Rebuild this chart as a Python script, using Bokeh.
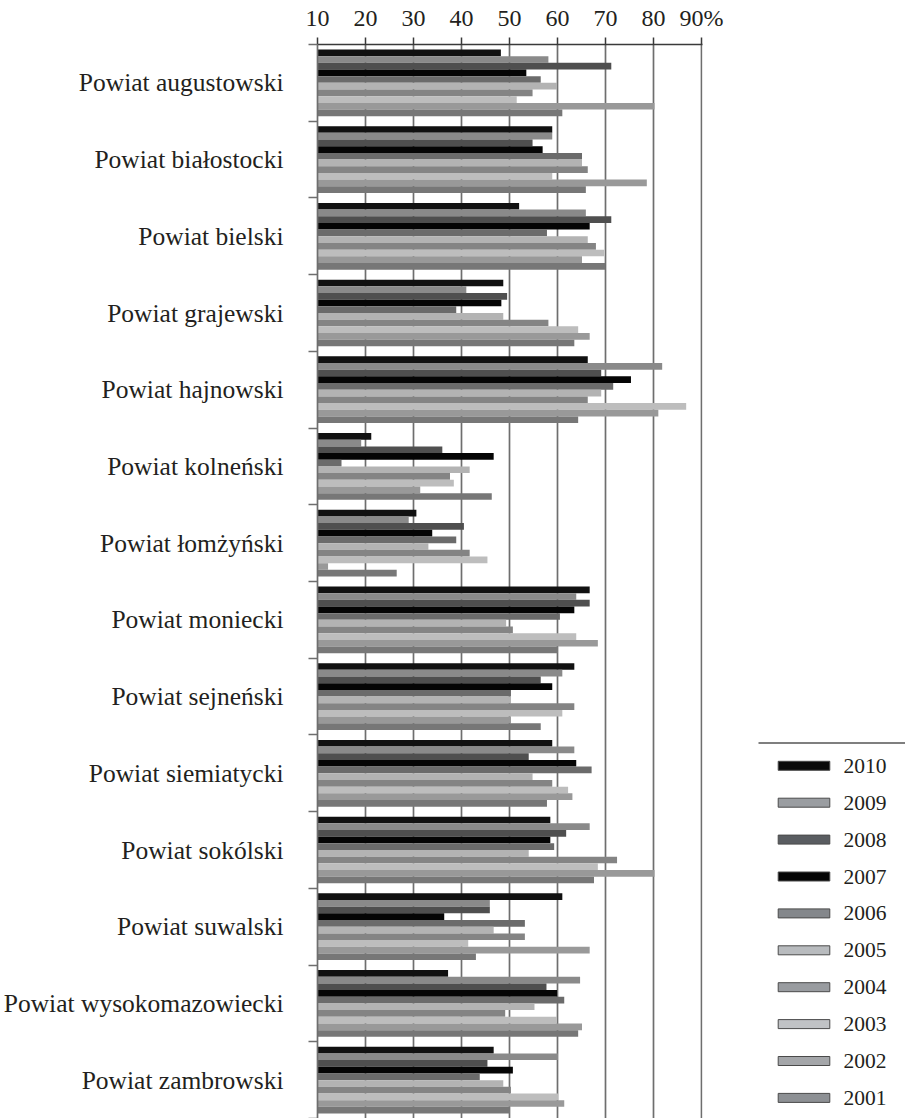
from bokeh.plotting import figure
from bokeh.models import Range1d, FixedTicker, CustomJSTickFormatter, ColumnDataSource
from bokeh.layouts import row
from bokeh.transform import dodge
from bokeh.core.properties import value
from bokeh.embed import file_html
from bokeh.resources import INLINE

districts = [
    "Powiat augustowski", "Powiat białostocki", "Powiat bielski", "Powiat grajewski",
    "Powiat hajnowski", "Powiat kolneński", "Powiat łomżyński", "Powiat moniecki",
    "Powiat sejneński", "Powiat siemiatycki", "Powiat sokólski", "Powiat suwalski",
    "Powiat wysokomazowiecki", "Powiat zambrowski",
]
years = ["2010", "2009", "2008", "2007", "2006", "2005", "2004", "2003", "2002", "2001"]

v2010 = [48.2, 58.9, 52.0, 48.7, 66.3, 21.2, 30.6, 66.7, 63.5, 58.9, 58.5, 61.0, 37.2, 46.7]
v2009 = [58.1, 58.9, 65.9, 41.0, 81.8, 19.1, 29.0, 63.9, 61.0, 63.5, 66.7, 45.9, 64.7, 60.1]
v2008 = [71.2, 54.8, 71.2, 49.5, 69.1, 36.0, 40.5, 66.7, 56.5, 54.0, 61.8, 45.9, 57.7, 45.4]
v2007 = [53.5, 56.9, 66.7, 48.3, 75.3, 46.7, 33.9, 63.5, 58.9, 63.9, 58.5, 36.4, 59.9, 50.7]
v2006 = [56.5, 65.1, 57.8, 38.9, 71.6, 15.0, 38.9, 60.5, 50.3, 67.1, 59.3, 53.2, 61.4, 43.8]
v2005 = [59.9, 65.1, 66.3, 48.7, 69.1, 41.7, 33.1, 49.3, 50.3, 54.8, 54.0, 46.7, 55.2, 48.7]
v2004 = [54.8, 66.3, 68.0, 58.1, 66.3, 37.6, 41.7, 50.7, 63.5, 58.9, 72.4, 53.2, 49.1, 50.3]
v2003 = [51.5, 58.9, 69.7, 64.3, 86.8, 38.4, 45.4, 63.9, 61.0, 62.2, 68.4, 41.4, 59.9, 60.1]
v2002 = [80.2, 78.6, 65.1, 66.7, 81.0, 31.4, 12.2, 68.4, 50.3, 63.1, 80.2, 66.7, 65.1, 61.4]
v2001 = [61.0, 65.9, 69.9, 63.5, 64.3, 46.3, 26.5, 60.1, 56.5, 57.8, 67.6, 43.0, 64.3, 50.1]

x_ticks = [10, 20, 30, 40, 50, 60, 70, 80, 90]

series = [v2010, v2009, v2008, v2007, v2006, v2005, v2004, v2003, v2002, v2001]
bar_colors = ["#111111", "#8a8a8a", "#4f4f4f", "#050505", "#6b6b6b",
              "#b3b3b3", "#848484", "#bdbdbd", "#999999", "#777777"]
legend_fill = ["#0a0a0a", "#9a9da1", "#5a5d61", "#050505", "#84878b",
               "#b8bbbe", "#999ca0", "#c0c2c5", "#a4a6a9", "#8d9094"]

FONT = "Liberation Serif"
TXT = "#231f20"
n = len(districts)
h = 0.087

W_MAIN = 730
H = 1118
TOP = 44

p = figure(width=W_MAIN, height=H, x_range=Range1d(10, 90.2), y_range=Range1d(n, 0),
           x_axis_location="above", output_backend="svg", toolbar_location=None,
           min_border_left=310, min_border_right=W_MAIN - 702, min_border_top=TOP,
           min_border_bottom=0)
p.outline_line_color = None

centers = [i + 0.5 for i in range(n)]
for j, (yr, vals) in enumerate(zip(years, series)):
    src = ColumnDataSource(dict(y=centers, v=vals))
    p.hbar(y=dodge("y", (j - 4.5) * h), left=10, right="v", height=h,
           fill_color=bar_colors[j], line_color=None, source=src)

# top axis
xa = p.xaxis[0]
xa.ticker = FixedTicker(ticks=x_ticks)
xa.major_label_overrides = {90: "90%"}
xa.major_tick_in = 0
xa.major_tick_out = 7
xa.minor_tick_line_color = None
xa.major_tick_line_color = "#3a3a3a"
xa.major_tick_line_width = 1.5
xa.axis_line_color = "#3a3a3a"
xa.axis_line_width = 1.5
xa.major_label_standoff = 7
xa.major_label_text_font = FONT
xa.major_label_text_font_size = "24px"
xa.major_label_text_color = TXT

p.xgrid.ticker = FixedTicker(ticks=x_ticks)
p.xgrid.grid_line_color = "#6e6e6e"
p.xgrid.grid_line_width = 1.7
p.ygrid.grid_line_color = None

ya = p.yaxis[0]
ya.ticker = FixedTicker(ticks=centers, minor_ticks=list(range(n + 1)))
ya.formatter = CustomJSTickFormatter(args=dict(names=districts),
                                     code="return names[Math.round(tick - 0.5)];")
ya.major_tick_out = 0
ya.major_tick_in = 0
ya.minor_tick_out = 9
ya.minor_tick_in = 0
ya.minor_tick_line_color = "#6e6e6e"
ya.minor_tick_line_width = 1.3
ya.axis_line_color = "#6e6e6e"
ya.axis_line_width = 1.7
ya.major_label_standoff = 25
ya.major_label_text_font = FONT
ya.major_label_text_font_size = "25.5px"
ya.major_label_text_color = TXT

# legend panel (its frame is aligned with the main frame by the row layout;
# ranges are expressed in page pixels)
LW = 905 - W_MAIN
lg = figure(width=LW, height=H, x_range=Range1d(W_MAIN, 905), y_range=Range1d(H, TOP),
            output_backend="svg", toolbar_location=None, min_border=0)
lg.axis.visible = False
lg.grid.grid_line_color = None
lg.outline_line_color = None
lg.segment(x0=[758], y0=[742.5], x1=[905], y1=[742.5], line_color="#555555", line_width=1.3)
ly = [765.3 + 36.9 * k for k in range(len(years))]
lg.rect(x=[803.5] * len(years), y=ly, width=51.6, height=9, fill_color=legend_fill,
        line_color="#4a4a4a", line_width=1)
lg.text(x=[843] * len(years), y=ly, text=years, text_font=value(FONT),
        text_font_size="21.5px", text_color=TXT, text_baseline="middle", text_align="left")

layout = row(p, lg)
open("out.html", "w").write(file_html(layout, INLINE))
